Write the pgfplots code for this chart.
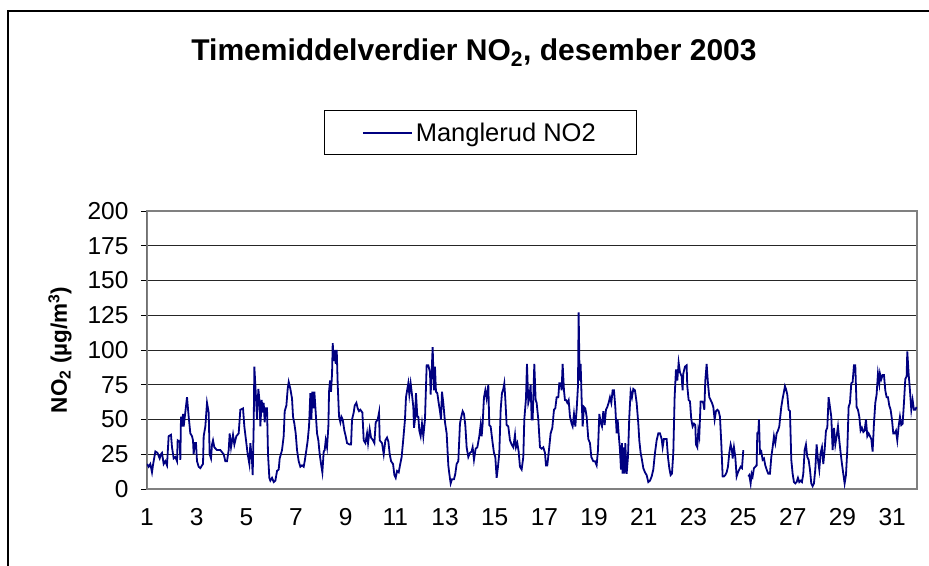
\documentclass[border=0pt]{standalone}
\usepackage{fontspec}
\setmainfont{Liberation Sans}
\usepackage{pgfplots}
\pgfplotsset{compat=1.18}
\definecolor{navy}{RGB}{0,0,128}

\pgfplotstableread{
day value
1.000 18
1.067 16
1.134 18
1.201 12
1.240 17
1.268 20
1.336 27
1.420 26
1.510 22
1.560 25
1.604 26
1.671 18
1.738 20
1.805 17
1.872 38
1.966 39
2.007 30
2.074 22
2.141 23
2.208 20
2.235 35
2.315 34
2.342 21
2.369 52
2.409 45
2.450 54
2.477 45
2.611 66
2.678 52
2.745 40
2.812 38
2.852 35
2.879 25
2.919 33
2.973 33
3.013 20
3.081 16
3.148 15
3.215 17
3.255 18
3.282 38
3.349 45
3.416 62
3.483 55
3.523 25
3.577 22
3.617 32
3.658 35
3.711 30
3.819 28
3.953 28
4.087 25
4.154 20
4.221 20
4.289 28
4.329 40
4.383 30
4.463 39
4.517 32
4.597 38
4.691 40
4.758 57
4.866 58
4.919 45
5.000 33
5.054 25
5.121 18
5.161 33
5.228 20
5.255 10
5.295 45
5.322 88
5.376 70
5.430 50
5.483 72
5.537 62
5.564 45
5.617 64
5.658 55
5.698 62
5.738 48
5.779 58
5.832 58
5.872 25
5.926 8
5.966 6
6.034 8
6.101 5
6.168 6
6.235 13
6.302 14
6.342 22
6.436 28
6.503 38
6.544 56
6.611 60
6.664 72
6.705 77
6.772 72
6.839 65
6.879 52
6.933 47
6.987 40
7.040 28
7.107 20
7.174 16
7.242 17
7.309 16
7.349 20
7.416 28
7.470 35
7.523 45
7.577 69
7.617 50
7.658 70
7.698 58
7.738 70
7.792 55
7.846 40
7.899 35
7.953 25
8.007 18
8.060 12
8.114 27
8.154 28
8.195 35
8.248 30
8.302 45
8.329 70
8.369 78
8.409 70
8.450 83
8.477 105
8.517 92
8.557 100
8.597 90
8.638 100
8.678 75
8.732 52
8.785 48
8.826 52
8.879 50
8.946 42
9.000 38
9.054 33
9.161 32
9.215 32
9.255 50
9.322 55
9.362 60
9.430 62
9.483 58
9.537 56
9.591 57
9.671 55
9.725 35
9.792 33
9.859 40
9.899 33
9.966 43
10.020 37
10.101 35
10.154 33
10.208 48
10.289 50
10.342 55
10.369 35
10.463 33
10.530 25
10.597 35
10.664 37
10.718 34
10.772 25
10.826 20
10.906 18
10.960 10
11.013 8
11.067 13
11.134 12
11.185 17
11.252 23
11.319 36
11.386 50
11.427 66
11.520 76
11.561 68
11.614 76
11.668 68
11.722 59
11.749 44
11.789 50
11.829 69
11.883 52
11.923 52
11.963 42
12.017 38
12.071 47
12.124 38
12.191 50
12.259 89
12.326 89
12.393 84
12.420 68
12.460 84
12.500 102
12.554 71
12.594 88
12.634 70
12.688 69
12.742 62
12.795 56
12.836 50
12.876 70
12.929 62
12.997 48
13.064 40
13.131 17
13.171 11
13.225 4
13.278 7
13.359 7
13.413 11
13.466 18
13.533 20
13.600 47
13.641 51
13.708 56
13.762 54
13.815 46
13.869 30
13.936 23
14.003 26
14.070 27
14.110 30
14.164 21
14.231 29
14.298 30
14.379 38
14.432 46
14.473 38
14.513 47
14.567 66
14.620 71
14.674 65
14.741 75
14.781 46
14.835 45
14.916 33
14.969 26
15.023 23
15.077 8
15.130 16
15.184 26
15.238 57
15.291 69
15.345 72
15.385 76
15.425 65
15.479 46
15.546 45
15.613 35
15.681 32
15.748 30
15.815 39
15.855 30
15.909 33
15.962 27
16.016 16
16.083 14
16.150 23
16.190 50
16.257 65
16.298 90
16.351 62
16.392 65
16.445 75
16.486 50
16.526 50
16.593 90
16.647 64
16.687 62
16.754 50
16.821 30
16.888 29
16.955 30
17.022 26
17.063 17
17.116 17
17.183 28
17.250 40
17.318 44
17.385 57
17.438 58
17.492 66
17.559 66
17.599 76
17.653 76
17.693 71
17.733 90
17.787 71
17.827 64
17.868 64
17.921 62
17.975 64
18.029 52
18.096 47
18.136 45
18.190 54
18.244 45
18.297 57
18.351 74
18.378 127
18.418 78
18.458 90
18.498 65
18.539 45
18.592 59
18.646 58
18.700 52
18.767 36
18.834 33
18.888 23
18.968 20
19.035 20
19.102 17
19.156 28
19.210 54
19.263 48
19.317 45
19.371 56
19.424 46
19.478 57
19.532 59
19.585 62
19.639 66
19.693 62
19.746 71
19.800 71
19.854 59
19.908 40
19.948 50
19.988 40
20.042 28
20.082 14
20.122 33
20.149 11
20.176 30
20.216 11
20.256 33
20.310 11
20.364 23
20.417 52
20.471 70
20.525 66
20.578 72
20.645 71
20.713 62
20.780 47
20.820 35
20.874 26
20.927 21
20.981 15
21.048 12
21.115 10
21.182 5
21.250 6
21.317 9
21.384 14
21.451 26
21.518 35
21.585 40
21.652 40
21.719 36
21.760 30
21.813 36
21.867 36
21.920 36
21.974 23
22.028 15
22.081 10
22.135 11
22.189 26
22.242 66
22.296 86
22.350 78
22.403 91
22.457 84
22.524 81
22.564 71
22.591 83
22.658 88
22.725 89
22.752 74
22.806 64
22.860 63
22.913 50
22.967 45
23.021 47
23.074 46
23.101 32
23.155 30
23.195 42
23.235 38
23.289 63
23.343 63
23.396 62
23.437 57
23.477 78
23.531 90
23.584 76
23.638 66
23.692 64
23.745 62
23.799 59
23.853 50
23.906 56
23.960 57
24.014 56
24.067 52
24.121 33
24.175 9
24.228 9
24.282 10
24.336 12
24.389 16
24.443 26
24.497 32
24.550 28
24.577 22
24.631 30
24.685 23
24.738 9
24.792 12
24.846 14
24.899 16
24.953 15
25.007 28
25.100 nan
25.208 9
25.248 10
25.302 4
25.342 11
25.382 9
25.436 15
25.490 16
25.543 17
25.570 40
25.610 40
25.637 50
25.678 26
25.731 27
25.785 21
25.839 22
25.892 17
25.946 14
26.013 11
26.080 11
26.134 23
26.188 30
26.241 38
26.295 33
26.349 40
26.402 42
26.456 45
26.483 50
26.536 59
26.590 65
26.644 70
26.684 74
26.724 72
26.778 68
26.832 57
26.885 56
26.939 21
26.993 11
27.046 5
27.100 4
27.154 5
27.207 8
27.261 5
27.315 6
27.368 5
27.422 11
27.476 28
27.529 32
27.583 23
27.637 21
27.690 14
27.744 4
27.798 2
27.851 4
27.905 14
27.959 32
28.013 21
28.066 14
28.120 26
28.174 30
28.227 18
28.281 28
28.335 42
28.388 44
28.442 66
28.496 59
28.549 52
28.603 28
28.657 44
28.710 32
28.764 38
28.818 45
28.871 35
28.925 26
28.979 18
29.032 11
29.086 4
29.140 10
29.193 28
29.247 59
29.301 62
29.354 76
29.408 77
29.462 89
29.515 89
29.569 59
29.623 57
29.677 52
29.730 42
29.784 44
29.838 41
29.891 42
29.945 50
29.999 38
30.052 40
30.106 38
30.160 36
30.213 27
30.267 47
30.321 62
30.374 68
30.428 83
30.482 76
30.509 83
30.562 79
30.616 82
30.670 82
30.723 71
30.777 66
30.831 66
30.884 60
30.938 57
30.992 50
31.045 40
31.099 40
31.153 42
31.206 35
31.260 45
31.314 52
31.367 46
31.421 47
31.475 62
31.528 79
31.582 81
31.609 99
31.662 83
31.716 71
31.770 57
31.823 64
31.877 57
31.931 57
31.984 59
}\manglerud

\begin{document}
\begin{tikzpicture}
% bounding box = whole 929x566 image, plot area sits at (0,0)-(770,278)
\useasboundingbox (-147bp,-77bp) rectangle (782bp,489bp);
\draw[black, line width=1.5bp] (-139bp,-77bp) -- (-139bp,478bp) -- (782bp,478bp);
\begin{axis}[
    scale only axis,
    width=770bp,
    height=278bp,
    xmin=1, xmax=32,
    ymin=0, ymax=200,
    xtick={1,3,...,31},
    ytick={0,25,...,200},
    ytick pos=left,
    tick align=outside,
    major tick length=6bp,
    xtick style={draw=none},
    ytick style={black, line width=0.8bp},
    ymajorgrids,
    grid style={black!85, line width=0.8bp},
    axis line style={draw=black!50, line width=1.2bp},
    /pgf/number format/assume math mode=true,
    tick label style={font=\fontsize{24.5bp}{28bp}\selectfont},
    xticklabel style={yshift=-10bp},
    yticklabel style={xshift=-9bp},
    ylabel={\bfseries NO\textsubscript{2} (µg/m\textsuperscript{3})},
    ylabel style={at={(axis description cs:-0.113,0.5)}, anchor=center,
        font=\fontsize{22.5bp}{26bp}\selectfont},
    title={\bfseries Timemiddelverdier NO\textsubscript{2}, desember 2003},
    title style={at={(axis description cs:0.4247,1.521)}, anchor=base,
        font=\fontsize{30bp}{34bp}\selectfont},
    legend style={at={(axis description cs:0.433,1.281)}, anchor=center,
        draw=black, line width=0.8bp, inner xsep=38bp, inner ysep=10bp,
        nodes={inner xsep=3bp, inner ysep=2bp},
        font=\fontsize{25.5bp}{29bp}\selectfont},
    legend image code/.code={\draw[#1] (0bp,0bp) -- (49bp,0bp);},
]
\addplot[navy, line width=1.8bp, unbounded coords=jump] table[x=day, y=value] {\manglerud};
\addlegendentry{Manglerud NO2}
\draw[black, line width=1bp] (rel axis cs:0,0) -- (rel axis cs:0,1);
\end{axis}
\end{tikzpicture}
\end{document}
